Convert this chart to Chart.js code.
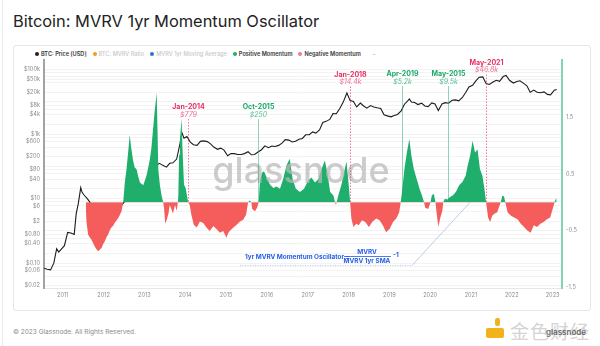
<!DOCTYPE html>
<html>
<head>
<meta charset="utf-8">
<script src="https://cdn.jsdelivr.net/npm/chart.js@4.4.0/dist/chart.umd.min.js"></script>
<style>
  html, body { margin: 0; padding: 0; background: #fff; }
  body { width: 600px; height: 346px; position: relative; overflow: hidden; font-family: Inter, "Noto Sans", sans-serif; }
  .edge { position: absolute; left: 2px; top: 0; width: 1px; height: 346px; background: #ececec; }
  .title { position: absolute; left: 13px; top: 11px; font-size: 16.4px; line-height: 20px; color: #222; }
  .card { position: absolute; left: 13px; top: 45px; width: 576px; height: 264px; border: 1px solid #e6e6e6; border-radius: 3px; }
  #chart { position: absolute; left: 13px; top: 45px; }
  .legend { position: absolute; left: 35px; top: 51px; display: flex; gap: 6px; }
  .lg { font-size: 5.6px; font-weight: 600; color: #333; white-space: nowrap; line-height: 6px; }
  .lg i { display: inline-block; width: 4px; height: 4px; border-radius: 50%; margin-right: 2px; vertical-align: 0; }
  .lg.off { color: #c8c8c8; font-weight: 500; }
  .footer { position: absolute; left: 13px; top: 328px; font-size: 6.5px; color: #8a8a8a; }
  .mark { position: absolute; left: 486px; top: 315px; width: 106px; height: 30px; }
  .mark .ico { position: absolute; left: 0; top: 3px; width: 20px; height: 22px; }
  .mark .ico b { position: absolute; background: #f2b21c; border-radius: 2px; }
  .mark .cn { position: absolute; left: 24px; top: 2px; font-family: "Noto Sans CJK SC"; font-size: 19px; color: #d4d4d4; letter-spacing: 1px; }
  .mark .en { position: absolute; left: 60px; top: 12px; font-size: 8px; font-weight: 600; color: #666; }
</style>
</head>
<body>
<div class="edge"></div>
<div class="title">Bitcoin: MVRV 1yr Momentum Oscillator</div>
<div class="card"></div>
<div class="legend">
  <div class="lg"><i style="background:#222"></i>BTC: Price [USD]</div>
  <div class="lg off"><i style="background:#f29a1d"></i>BTC: MVRV Ratio</div>
  <div class="lg off"><i style="background:#2f6fd6"></i>MVRV 1yr Moving Average</div>
  <div class="lg"><i style="background:#1fae6c"></i>Positive Momentum</div>
  <div class="lg"><i style="background:#f07b86"></i>Negative Momentum</div>
  <div class="lg" style="color:#999;margin-left:6px">-</div>
</div>
<canvas id="chart" width="577" height="265"></canvas>
<div class="footer">© 2023 Glassnode. All Rights Reserved.</div>
<div class="mark">
  <div class="ico"><b style="left:9px;top:0;width:5px;height:8px"></b><b style="left:0;top:10px;width:18px;height:10px"></b></div>
  <div class="cn">金色财经</div>
  <div class="en">glassnode</div>
</div>
<script>
// BTC price (USD), decimal year
const priceDates = [
  2010.54, 2010.62, 2010.70, 2010.78, 2010.85, 2010.90, 2010.96,
  2011.04, 2011.12, 2011.20, 2011.28, 2011.33, 2011.38, 2011.44, 2011.47, 2011.52, 2011.60, 2011.66, 2011.72, 2011.78, 2011.86, 2011.95,
  2012.04, 2012.12, 2012.20, 2012.28, 2012.37, 2012.45, 2012.54, 2012.62, 2012.66, 2012.70, 2012.79, 2012.87, 2012.95,
  2013.04, 2013.12, 2013.20, 2013.27, 2013.30, 2013.37, 2013.45, 2013.54, 2013.62, 2013.70, 2013.79, 2013.87, 2013.92, 2013.97,
  2014.04, 2014.12, 2014.20, 2014.29, 2014.37, 2014.45, 2014.54, 2014.62, 2014.70, 2014.79, 2014.87, 2014.95,
  2015.04, 2015.12, 2015.20, 2015.29, 2015.37, 2015.45, 2015.54, 2015.62, 2015.70, 2015.79, 2015.87, 2015.95,
  2016.04, 2016.12, 2016.20, 2016.29, 2016.37, 2016.45, 2016.54, 2016.62, 2016.70, 2016.79, 2016.87, 2016.95,
  2017.04, 2017.12, 2017.20, 2017.29, 2017.37, 2017.45, 2017.54, 2017.62, 2017.70, 2017.79, 2017.87, 2017.96,
  2018.04, 2018.12, 2018.20, 2018.29, 2018.37, 2018.45, 2018.54, 2018.62, 2018.70, 2018.79, 2018.87, 2018.95,
  2019.04, 2019.12, 2019.20, 2019.29, 2019.37, 2019.45, 2019.49, 2019.54, 2019.62, 2019.70, 2019.79, 2019.87, 2019.95,
  2020.04, 2020.12, 2020.20, 2020.29, 2020.37, 2020.45, 2020.54, 2020.62, 2020.70, 2020.79, 2020.87, 2020.95,
  2021.04, 2021.12, 2021.20, 2021.29, 2021.37, 2021.45, 2021.54, 2021.62, 2021.70, 2021.79, 2021.86, 2021.95,
  2022.04, 2022.12, 2022.20, 2022.29, 2022.37, 2022.45, 2022.54, 2022.62, 2022.70, 2022.79, 2022.87, 2022.95,
  2023.04, 2023.10
];
const priceValues = [
  0.07, 0.065, 0.062, 0.10, 0.28, 0.22, 0.27,
  0.35, 0.90, 0.86, 0.78, 3.5, 7, 22, 16, 13, 10, 8, 5, 3.5, 2.5, 3.5,
  6.5, 5.2, 4.9, 5.0, 5.1, 6.4, 8.8, 11, 10, 11.5, 11.8, 11.2, 13.3,
  17, 28, 60, 200, 110, 125, 108, 95, 125, 130, 170, 500, 1100, 750,
  850, 580, 470, 450, 600, 620, 590, 500, 400, 340, 370, 320,
  215, 250, 250, 235, 235, 250, 285, 230, 235, 285, 330, 435,
  380, 430, 415, 450, 530, 680, 655, 575, 605, 700, 740, 960,
  960, 1180, 1080, 1350, 2300, 2500, 2870, 4350, 4300, 6400, 9900, 19000,
  11000, 10300, 7000, 9200, 7500, 6400, 7700, 7000, 6600, 6300, 4000, 3700,
  3450, 3800, 4100, 5300, 8500, 10800, 12500, 10000, 9600, 8300, 9200, 7500, 7200,
  9300, 8600, 5400, 8700, 9500, 9100, 11300, 11600, 10800, 13800, 19600, 29000,
  33000, 45000, 58500, 60000, 37300, 35000, 41500, 47000, 43800, 61300, 66000, 46300,
  38500, 43200, 45500, 37700, 31800, 20000, 23300, 20000, 19400, 20500, 17200, 16550,
  23100, 24500
];

// MVRV 1yr momentum oscillator
const oscDates = [
  2011.56, 2011.58, 2011.62, 2011.66, 2011.70, 2011.74, 2011.78, 2011.83, 2011.87, 2011.91, 2011.95, 2011.99,
  2012.03, 2012.07, 2012.11, 2012.15, 2012.19, 2012.23, 2012.27, 2012.31, 2012.36, 2012.40, 2012.44, 2012.48,
  2012.52, 2012.56, 2012.61, 2012.64, 2012.67, 2012.72, 2012.76, 2012.81, 2012.85, 2012.89, 2012.97,
  2013.01, 2013.05, 2013.09, 2013.13, 2013.17, 2013.21, 2013.25, 2013.30, 2013.32, 2013.34, 2013.38, 2013.42, 2013.46,
  2013.48, 2013.51, 2013.55, 2013.59, 2013.62, 2013.66, 2013.70, 2013.75, 2013.79, 2013.82,
  2013.83, 2013.85, 2013.87, 2013.91, 2013.93, 2013.97, 2014.01, 2014.04, 2014.07,
  2014.11, 2014.15, 2014.21, 2014.28, 2014.36, 2014.44, 2014.52, 2014.60, 2014.69, 2014.77, 2014.85, 2014.93,
  2015.01, 2015.05, 2015.09, 2015.18, 2015.26, 2015.34, 2015.42, 2015.49, 2015.54, 2015.58, 2015.62, 2015.64, 2015.71, 2015.76, 2015.80,
  2015.83, 2015.88, 2015.93, 2016.00, 2016.08, 2016.16, 2016.24, 2016.32, 2016.40, 2016.48, 2016.56, 2016.63, 2016.71, 2016.81, 2016.91,
  2017.01, 2017.09, 2017.18, 2017.26, 2017.34, 2017.42, 2017.48, 2017.55, 2017.63, 2017.67, 2017.69, 2017.71, 2017.75, 2017.83, 2017.89, 2017.95,
  2018.00, 2018.04, 2018.07, 2018.12, 2018.19, 2018.25, 2018.33, 2018.41, 2018.50, 2018.58, 2018.68, 2018.76, 2018.84, 2018.92,
  2019.01, 2019.09, 2019.17, 2019.24, 2019.28, 2019.31, 2019.37, 2019.43, 2019.49, 2019.54, 2019.60, 2019.67, 2019.74, 2019.80, 2019.85, 2019.88, 2019.95,
  2020.01, 2020.04, 2020.09, 2020.13, 2020.16, 2020.20, 2020.25, 2020.30, 2020.32, 2020.36, 2020.42, 2020.48, 2020.55, 2020.63, 2020.71, 2020.79, 2020.87, 2020.92, 2020.98,
  2021.04, 2021.10, 2021.16, 2021.22, 2021.28, 2021.33, 2021.37, 2021.42, 2021.47, 2021.52, 2021.58, 2021.64, 2021.70, 2021.73, 2021.77, 2021.81, 2021.84, 2021.90, 2021.98,
  2022.06, 2022.14, 2022.22, 2022.30, 2022.38, 2022.46, 2022.54, 2022.62, 2022.70, 2022.78, 2022.86, 2022.94,
  2023.01, 2023.05, 2023.08, 2023.10
];
const oscValues = [
  0, -0.34, -0.57, -0.62, -0.66, -0.72, -0.78, -0.84, -0.87, -0.84, -0.81, -0.74,
  -0.69, -0.62, -0.57, -0.50, -0.45, -0.42, -0.37, -0.33, -0.28, -0.22, -0.16, 0,
  0.35, 0.58, 0.95, 1.19, 1.0, 0.75, 0.62, 0.58, 0.45, 0.35, 0.30,
  0.38, 0.47, 0.60, 0.75, 0.95, 1.28, 1.60, 1.94, 1.30, 0.58, 0.30, 0.12, 0,
  -0.10, -0.38, -0.30, -0.20, -0.05, -0.12, -0.20, -0.05, -0.15, 0,
  0.10, 0.84, 1.10, 1.49, 1.0, 0.31, 0.25, 0.13, 0,
  -0.05, -0.22, -0.40, -0.45, -0.34, -0.37, -0.45, -0.51, -0.42, -0.48, -0.54, -0.51,
  -0.63, -0.55, -0.51, -0.45, -0.40, -0.34, -0.31, -0.22, 0, 0.03, 0, -0.12, -0.16, -0.10, 0,
  0.37, 0.52, 0.55, 0.43, 0.31, 0.25, 0.28, 0.24, 0.41, 0.65, 0.77, 0.41, 0.24, 0.18, 0.24,
  0.38, 0.44, 0.35, 0.41, 0.59, 0.74, 0.53, 0.18, 0.12, 0, -0.05, 0, 0.12, 0.32, 0.53, 0.72,
  0.35, 0, -0.29, -0.44, -0.38, -0.41, -0.32, -0.35, -0.44, -0.35, -0.29, -0.32, -0.41, -0.53,
  -0.47, -0.35, -0.29, -0.18, 0, 0.18, 0.59, 0.88, 1.12, 0.83, 0.59, 0.41, 0.24, 0.12, 0, -0.10, -0.12,
  0, 0.12, 0.15, 0, -0.20, -0.44, -0.27, -0.15, 0, 0.06, 0.05, 0.09, 0.12, 0.18, 0.30, 0.36, 0.47, 0.65, 0.83,
  1.09, 0.88, 0.94, 0.59, 0.47, 0.24, 0, -0.27, -0.35, -0.24, -0.20, -0.18, -0.06, 0, 0.12, 0.10, 0, -0.18, -0.24,
  -0.27, -0.30, -0.38, -0.44, -0.50, -0.54, -0.41, -0.44, -0.38, -0.35, -0.30, -0.27,
  -0.10, 0, 0.06, 0.06
];

const yearTicks = [2011, 2012, 2013, 2014, 2015, 2016, 2017, 2018, 2019, 2020, 2021, 2022, 2023];
const priceGridValues = [0.02, 0.04, 0.06, 0.08, 0.1, 0.2, 0.4, 0.6, 0.8, 1, 2, 4, 6, 8, 10, 20, 40, 60, 80,
  100, 200, 400, 600, 800, 1000, 2000, 4000, 6000, 8000, 10000, 20000, 40000, 50000, 60000, 80000, 100000];
const priceLabelValues = [100000, 50000, 20000, 8000, 4000, 1000, 600, 200, 80, 40, 10, 6, 2, 0.8, 0.4, 0.1, 0.06, 0.02];
const priceLabelTexts = ['$100k', '$50k', '$20k', '$8k', '$4k', '$1k', '$600', '$200', '$80', '$40', '$10', '$6', '$2', '$0.80', '$0.40', '$0.10', '$0.06', '$0.02'];
const oscTicks = [-1.5, -0.5, 0.5, 1.5];

// marked tops and bottoms
const annotDates = [2014.07, 2015.79, 2018.03, 2019.30, 2020.44, 2021.37];
const annotTitles = ['Jan-2014', 'Oct-2015', 'Jan-2018', 'Apr-2019', 'May-2015', 'May-2021'];
const annotPrices = ['$779', '$250', '$14.4k', '$5.2k', '$9.5k', '$46.8k'];
const annotKinds = ['top', 'bottom', 'top', 'bottom', 'bottom', 'top'];

const GREEN = 'rgb(31, 174, 108)';
const RED = 'rgb(245, 92, 92)';
const FONT = 'Inter, "Noto Sans", sans-serif';

const overlay = {
  id: 'overlay',
  afterDatasetsDraw(chart, args, opts) {
    const { ctx, chartArea, scales } = chart;
    const x = scales.x, yo = scales.yOsc;
    const zeroY = yo.getPixelForValue(0);
    ctx.save();

    // watermark
    ctx.fillStyle = 'rgba(185, 185, 185, 0.72)';
    ctx.font = '500 36px ' + FONT;
    ctx.textAlign = 'center';
    ctx.textBaseline = 'alphabetic';
    ctx.fillText('glassnode', 288, 138);

    // annotations
    annotDates.forEach((d, i) => {
      const px = Math.round(x.getPixelForValue(d)) + 0.5;
      const ty = chartArea.top + opts.labelTop[i];
      const top = annotKinds[i] === 'top';
      ctx.textAlign = 'center';
      ctx.textBaseline = 'middle';
      ctx.fillStyle = top ? 'rgb(232, 48, 100)' : 'rgb(28, 168, 104)';
      ctx.font = 'bold 7px ' + FONT;
      ctx.fillText(annotTitles[i], px, ty);
      ctx.fillStyle = top ? 'rgb(240, 110, 145)' : 'rgb(90, 192, 145)';
      ctx.font = 'italic 7px ' + FONT;
      ctx.fillText(annotPrices[i], px, ty + 7.5);
      ctx.strokeStyle = top ? 'rgba(232, 48, 100, 0.8)' : 'rgba(28, 168, 104, 0.6)';
      ctx.lineWidth = 0.8;
      ctx.setLineDash(top ? [1.5, 1.5] : []);
      ctx.beginPath();
      ctx.moveTo(px, ty + 12);
      ctx.lineTo(px, zeroY);
      ctx.stroke();
    });
    ctx.setLineDash([]);

    // formula
    const blue = 'rgb(38, 92, 230)';
    ctx.fillStyle = blue;
    ctx.font = 'bold 6.4px ' + FONT;
    ctx.textBaseline = 'middle';
    ctx.textAlign = 'left';
    ctx.fillText('1yr MVRV Momentum Oscillator =', 232, 212);
    ctx.textAlign = 'center';
    ctx.fillText('MVRV', 354, 207);
    ctx.fillText('MVRV 1yr SMA', 354, 216);
    ctx.fillRect(331, 211, 47, 0.8);
    ctx.textAlign = 'left';
    ctx.fillText('-1', 380, 210);

    ctx.strokeStyle = 'rgba(150, 175, 225, 0.8)';
    ctx.lineWidth = 0.8;
    ctx.setLineDash([1, 1.5]);
    ctx.beginPath();
    ctx.moveTo(227, 220.5);
    ctx.lineTo(399, 220.5);
    ctx.stroke();
    ctx.setLineDash([]);
    ctx.beginPath();
    ctx.moveTo(399, 220.5);
    ctx.lineTo(x.getPixelForValue(2020.98), zeroY);
    ctx.stroke();
    ctx.restore();
  }
};

const tickFont = { family: FONT, size: 5.6 };

new Chart(document.getElementById('chart').getContext('2d'), {
  type: 'line',
  data: {
    datasets: [
      {
        label: 'BTC: Price [USD]',
        data: priceDates.map((d, i) => ({ x: d, y: priceValues[i] })),
        yAxisID: 'yPrice',
        borderColor: '#1c1c1c',
        borderWidth: 1.1,
        pointRadius: 0,
        tension: 0,
        fill: false,
        order: 2
      },
      {
        label: 'Momentum',
        data: oscDates.map((d, i) => ({ x: d, y: oscValues[i] })),
        yAxisID: 'yOsc',
        borderWidth: 0,
        borderColor: 'rgba(0,0,0,0)',
        pointRadius: 0,
        tension: 0,
        fill: { target: { value: 0 }, above: GREEN, below: RED },
        order: 1
      }
    ]
  },
  options: {
    responsive: false,
    animation: false,
    devicePixelRatio: 1,
    layout: { padding: { top: 15, left: 0, right: 0, bottom: 0 } },
    plugins: {
      legend: { display: false },
      tooltip: { enabled: false },
      overlay: { labelTop: [47, 47, 14.5, 14, 14, 2.5] }
    },
    scales: {
      x: {
        type: 'linear',
        min: 2010.54,
        max: 2023.23,
        afterBuildTicks: (s) => { s.ticks = yearTicks.map(v => ({ value: v })); },
        afterFit: (s) => { s.height = 22; },
        ticks: { autoSkip: false, maxRotation: 0, padding: 4, color: '#8c8c8c', font: tickFont, callback: (v) => String(v) },
        grid: { display: false, drawTicks: false },
        border: { display: true, color: '#e6e6e6', width: 1 }
      },
      yPrice: {
        type: 'logarithmic',
        position: 'left',
        min: 0.017,
        max: 200000,
        afterBuildTicks: (s) => { s.ticks = priceGridValues.map(v => ({ value: v })); },
        afterFit: (s) => { s.width = 31; },
        ticks: {
          autoSkip: false,
          padding: 4,
          color: '#8c8c8c',
          font: tickFont,
          callback: (v) => {
            const k = priceLabelValues.indexOf(v);
            return k >= 0 ? priceLabelTexts[k] : '';
          }
        },
        grid: { color: '#f0f0f0', lineWidth: 0.8, drawTicks: false },
        border: { display: true, color: '#a3a3a3', width: 2 }
      },
      yOsc: {
        type: 'linear',
        position: 'right',
        min: -1.52,
        max: 2.52,
        afterBuildTicks: (s) => { s.ticks = oscTicks.map(v => ({ value: v })); },
        afterFit: (s) => { s.width = 28; },
        ticks: { autoSkip: false, padding: 4, color: '#8c8c8c', font: tickFont, callback: (v) => String(v) },
        grid: { display: false, drawTicks: false },
        border: { display: true, color: 'rgb(128, 214, 178)', width: 2 }
      }
    }
  },
  plugins: [overlay]
});
</script>
</body>
</html>
